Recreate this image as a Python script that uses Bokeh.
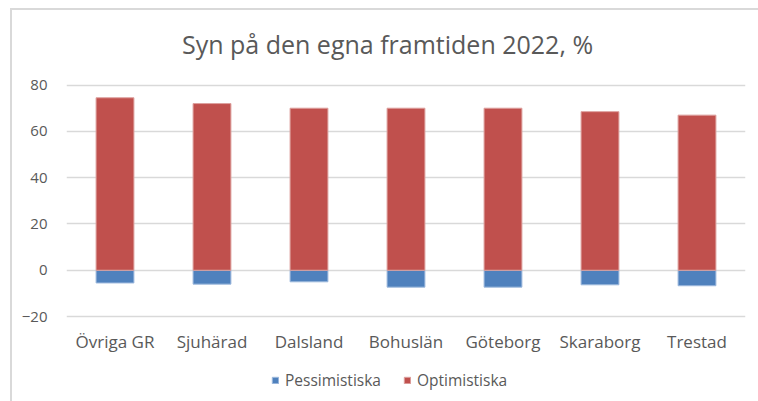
from bokeh.plotting import figure
from bokeh.models import ColumnDataSource, Legend, LegendItem, Range1d, FixedTicker, Label
from bokeh.embed import file_html
from bokeh.resources import INLINE

categories = ["Övriga GR", "Sjuhärad", "Dalsland", "Bohuslän", "Göteborg", "Skaraborg", "Trestad"]
optimistiska = [74.5, 72.0, 70.0, 70.0, 70.0, 68.5, 67.0]
pessimistiska = [-5.5, -6.0, -5.0, -7.3, -7.3, -6.3, -6.7]
y_ticks = [-20, 0, 20, 40, 60, 80]
title_text = "Syn på den egna framtiden 2022, %"

FONT = "Open Sans"
TXT = "#595959"

src = ColumnDataSource(dict(cat=categories, opt=optimistiska, pes=pessimistiska,
                            zero=[0] * len(categories)))

# frame spans the whole chart box; the y range is widened so that the
# plotted -20..80 band sits where the reference's plot area is
p = figure(x_range=categories, y_range=Range1d(-56.7, 112.2), title=None,
           frame_width=679, frame_height=391,
           output_backend="svg", toolbar_location=None,
           min_border_left=54, min_border_right=13, min_border_top=0, min_border_bottom=0)
p.styles = {"margin-left": "10px", "margin-top": "8px",
            "border-left": "2px solid #d9d9d9", "border-top": "2px solid #d9d9d9"}

r_pes = p.vbar(x="cat", top="zero", bottom="pes", width=0.39, source=src,
               fill_color="#4F81BD", line_color="#9db9dd", line_width=1)
r_opt = p.vbar(x="cat", top="opt", bottom="zero", width=0.39, source=src,
               fill_color="#C0504D", line_color="#dda09e", line_width=1)

p.add_layout(Label(x=321, y=358, x_units="screen", y_units="screen", text=title_text,
                   text_font=FONT, text_font_size="25px", text_color=TXT,
                   text_align="center", text_baseline="middle"))

p.outline_line_color = None
p.xgrid.grid_line_color = None
p.ygrid.grid_line_color = "#d9d9d9"
p.ygrid.grid_line_width = 1.5
p.yaxis.ticker = FixedTicker(ticks=y_ticks)
p.xaxis.fixed_location = -20

for ax in (p.xaxis[0], p.yaxis[0]):
    ax.axis_line_color = None
    ax.major_tick_line_color = None
    ax.minor_tick_line_color = None
    ax.major_label_text_font = FONT
    ax.major_label_text_color = TXT
p.xaxis.major_label_text_font_size = "17px"
p.xaxis.major_label_standoff = 7
p.yaxis.major_label_text_font_size = "15px"
p.yaxis.major_label_standoff = 13

legend = Legend(items=[LegendItem(label="Pessimistiska", renderers=[r_pes]),
                       LegendItem(label="Optimistiska", renderers=[r_opt])],
                orientation="horizontal", location=(205, 10),
                label_text_font=FONT, label_text_font_size="15.5px", label_text_color=TXT,
                glyph_width=8, glyph_height=8, label_standoff=6, spacing=22,
                border_line_color=None, background_fill_alpha=0, margin=0, padding=4)
p.add_layout(legend)

open("out.html", "w").write(file_html(p, INLINE))
